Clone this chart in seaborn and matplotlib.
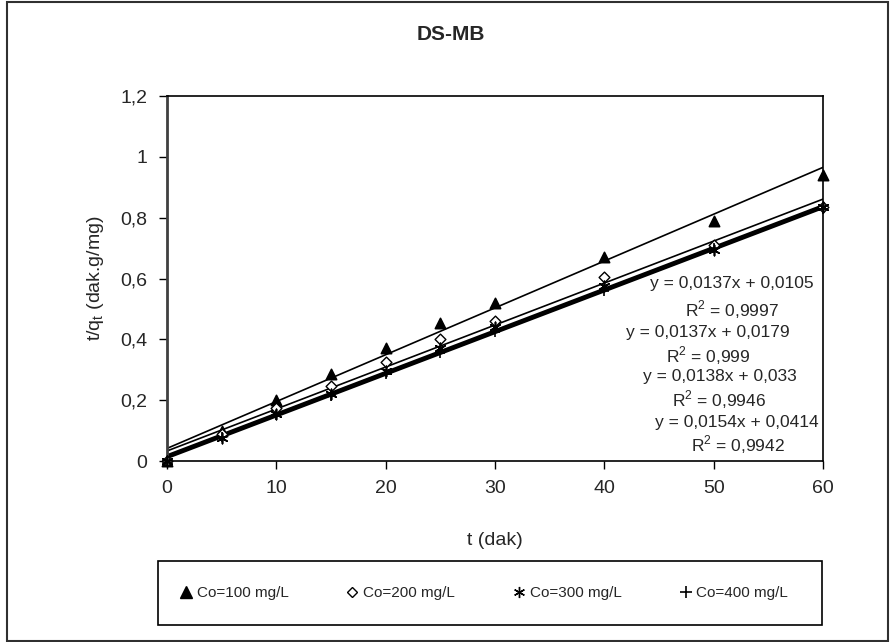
import numpy as np
import pandas as pd
import matplotlib
matplotlib.use("Agg")
import matplotlib.pyplot as plt
from matplotlib.patches import Rectangle
from matplotlib.lines import Line2D
import seaborn as sns

# data
t_min = [0, 5, 10, 15, 20, 25, 30, 40, 50, 60]
q100 = [0.0, 0.10, 0.20, 0.285, 0.37, 0.455, 0.52, 0.67, 0.79, 0.94]
q200 = [0.0, 0.09, 0.175, 0.245, 0.325, 0.40, 0.46, 0.605, 0.71, 0.835]
q300 = [0.0, 0.075, 0.155, 0.22, 0.295, 0.37, 0.44, 0.575, 0.695, 0.835]
q400 = [0.0, 0.08, 0.15, 0.215, 0.285, 0.355, 0.425, 0.56, 0.70, 0.83]

series_names = ["Co=100 mg/L", "Co=200 mg/L", "Co=300 mg/L", "Co=400 mg/L"]

# linear trendlines as printed on the chart (Excel order)
fit_slopes = [0.0137, 0.0137, 0.0138, 0.0154]
fit_intercepts = [0.0105, 0.0179, 0.033, 0.0414]
fit_labels = ["y = 0,0137x + 0,0105", "y = 0,0137x + 0,0179",
              "y = 0,0138x + 0,033", "y = 0,0154x + 0,0414"]
r2_labels = ["0,9997", "0,999", "0,9946", "0,9942"]

y_ticks = [0, 0.2, 0.4, 0.6, 0.8, 1.0, 1.2]
y_ticklabels = ["0", "0,2", "0,4", "0,6", "0,8", "1", "1,2"]
x_ticks = [0, 10, 20, 30, 40, 50, 60]

sns.set_style("white")
plt.rcParams["font.family"] = ["Liberation Sans", "DejaVu Sans"]
plt.rcParams["mathtext.fontset"] = "custom"
plt.rcParams["mathtext.rm"] = "Liberation Sans"

df = pd.DataFrame({
    "t": t_min * 4,
    "q": q100 + q200 + q300 + q400,
    "seri": np.repeat(series_names, len(t_min)),
})

W, H = 890, 642
fig = plt.figure(figsize=(W / 100, H / 100), dpi=100)
ax = fig.add_axes([167 / W, 1 - 461 / H, 656 / W, 365 / H])

# trendlines (the two lowest ones overlap into one thick band)
x_fit = np.array([0, 60])
line_w = [2.0, 2.0, 1.2, 1.2]
for m, b, lw in zip(fit_slopes, fit_intercepts, line_w):
    sns.lineplot(x=x_fit, y=m * x_fit + b, ax=ax, color="black", lw=lw)

markers = {"Co=100 mg/L": "^", "Co=200 mg/L": "D",
           "Co=300 mg/L": (6, 2, 0), "Co=400 mg/L": "+"}
sizes = {"Co=100 mg/L": 55, "Co=200 mg/L": 30,
         "Co=300 mg/L": 55, "Co=400 mg/L": 55}
for name in series_names:
    sub = df[df["seri"] == name]
    if name == "Co=200 mg/L":
        sns.scatterplot(data=sub, x="t", y="q", ax=ax, marker="D", s=30,
                        facecolor="white", edgecolor="black", linewidth=1.0,
                        zorder=3, clip_on=False)
    else:
        sns.scatterplot(data=sub, x="t", y="q", ax=ax, marker=markers[name],
                        s=sizes[name], color="black", edgecolor="black",
                        linewidth=1.2, zorder=3, clip_on=False)

ax.set_xlim(0, 60)
ax.set_ylim(0, 1.2)
ax.set_xticks(x_ticks)
ax.set_xticklabels([str(v) for v in x_ticks])
ax.set_yticks(y_ticks)
ax.set_yticklabels(y_ticklabels)
ax.tick_params(axis="both", labelsize=14, direction="out", length=6,
               width=1, color="black", left=True, bottom=True, pad=8)
for s in ax.spines.values():
    s.set_color("black")
    s.set_linewidth(1.2)
ax.spines["left"].set_color("#404040")
ax.spines["left"].set_linewidth(2)

ax.set_xlabel("t (dak)", fontsize=14)
ax.set_ylabel(r"t/q$_\mathregular{t}$ (dak.g/mg)", fontsize=14)
ax.xaxis.set_label_coords(0.5, -0.195)
ax.yaxis.set_label_coords(-0.093, 0.5)

# equation labels
eq_pos = [(51.7, 0.585), (49.5, 0.421), (50.6, 0.277), (52.1, 0.128)]
r2_pos = [(51.7, 0.496), (49.5, 0.345), (50.5, 0.200), (52.2, 0.053)]
for lab, (x, y) in zip(fit_labels, eq_pos):
    ax.text(x, y, lab, fontsize=12.5, ha="center", va="center")
for lab, (x, y) in zip(r2_labels, r2_pos):
    ax.text(x, y, r"R$^\mathregular{2}$ = " + lab, fontsize=12.5,
            ha="center", va="center")

fig.text(451 / W, 1 - 35 / H, "DS-MB", fontsize=15, fontweight="bold",
         ha="center", va="center")

# legend box
fig.patches.append(Rectangle((158 / W, 1 - 625 / H), 664 / W, 64 / H,
                             transform=fig.transFigure, fill=False,
                             edgecolor="black", lw=1.2))
handles = [
    Line2D([], [], ls="none", marker="^", color="black", ms=8),
    Line2D([], [], ls="none", marker="D", mfc="white", mec="black", ms=5.5),
    Line2D([], [], ls="none", marker=(6, 2, 0), color="black", ms=8),
    Line2D([], [], ls="none", marker="+", color="black", ms=8, mew=1.2),
]
fig.legend(handles, series_names, loc="center", ncol=4, frameon=False,
           bbox_to_anchor=(166 / W, 1 - 610 / H, 636 / W, 34 / H),
           mode="expand", fontsize=11, handlelength=0.8, handletextpad=0.3)

# outer chart frame
fig.patches.append(Rectangle((7 / W, 1 / H), 881 / W, 639 / H,
                             transform=fig.transFigure, fill=False,
                             edgecolor="#303030", lw=1.5))

fig.savefig("out.png", dpi=100)
